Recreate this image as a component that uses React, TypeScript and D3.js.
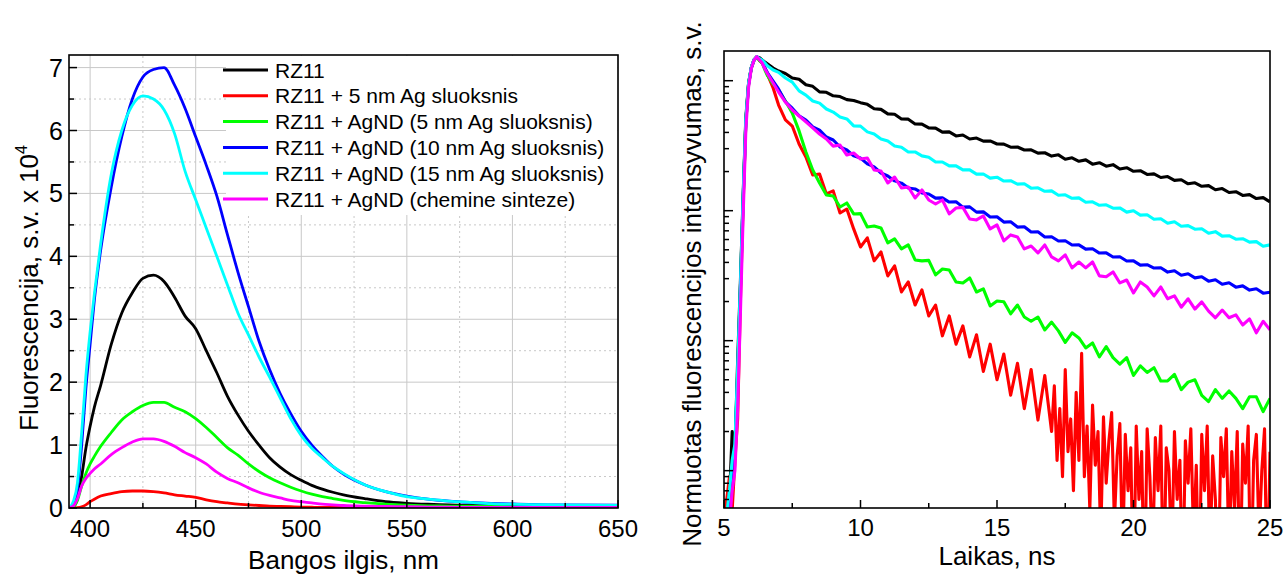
import React from "react";
import * as d3 from "d3";

// ---------- left panel: fluorescence spectra (x 10^4) ----------
const wavelength = [390, 392, 394, 396, 398, 400, 402, 405, 410, 415, 420, 425, 430, 435, 440, 445, 450, 455, 460, 465, 470, 475, 480, 485, 490, 495, 500, 505, 510, 515, 520, 530, 540, 550, 560, 570, 580, 590, 600, 620, 650];
const specRZ11 = [0, 0.02, 0.15, 0.5, 0.95, 1.3, 1.6, 1.95, 2.6, 3.1, 3.42, 3.65, 3.7, 3.6, 3.35, 3.05, 2.85, 2.5, 2.15, 1.78, 1.48, 1.22, 1.0, 0.8, 0.65, 0.53, 0.44, 0.36, 0.3, 0.25, 0.21, 0.15, 0.1, 0.075, 0.06, 0.05, 0.04, 0.035, 0.03, 0.025, 0.02];
const specAg5 = [0, 0, 0.005, 0.02, 0.05, 0.1, 0.14, 0.19, 0.23, 0.26, 0.27, 0.27, 0.26, 0.24, 0.21, 0.19, 0.17, 0.13, 0.1, 0.08, 0.06, 0.05, 0.04, 0.03, 0.025, 0.02, 0.015, 0.012, 0.01, 0.01, 0.008, 0.006, 0.005, 0.004, 0.003, 0.003, 0.002, 0.002, 0.002, 0.001, 0.001];
const specND5 = [0, 0.02, 0.12, 0.35, 0.55, 0.7, 0.82, 0.98, 1.2, 1.4, 1.53, 1.63, 1.68, 1.68, 1.6, 1.53, 1.42, 1.28, 1.12, 0.96, 0.84, 0.7, 0.58, 0.48, 0.4, 0.33, 0.27, 0.22, 0.18, 0.15, 0.12, 0.085, 0.06, 0.045, 0.035, 0.03, 0.028, 0.025, 0.025, 0.02, 0.02];
const specND10 = [0, 0.05, 0.3, 1.0, 1.9, 2.6, 3.3, 4.1, 5.1, 5.9, 6.5, 6.85, 6.97, 7.0, 6.72, 6.35, 5.9, 5.45, 4.96, 4.35, 3.75, 3.2, 2.65, 2.2, 1.82, 1.5, 1.22, 1.0, 0.82, 0.66, 0.54, 0.37, 0.26, 0.19, 0.14, 0.11, 0.09, 0.075, 0.065, 0.05, 0.045];
const specND15 = [0, 0.1, 0.4, 1.2, 2.1, 2.8, 3.4, 4.2, 5.3, 6.0, 6.4, 6.55, 6.5, 6.33, 5.95, 5.35, 4.9, 4.45, 4.0, 3.55, 3.1, 2.75, 2.4, 2.08, 1.75, 1.42, 1.15, 0.95, 0.8, 0.66, 0.55, 0.37, 0.26, 0.18, 0.14, 0.11, 0.09, 0.07, 0.06, 0.05, 0.04];
const specChem = [0, 0.03, 0.15, 0.35, 0.47, 0.55, 0.62, 0.7, 0.85, 0.96, 1.05, 1.1, 1.1, 1.06, 0.98, 0.88, 0.8, 0.7, 0.57, 0.47, 0.4, 0.32, 0.25, 0.2, 0.16, 0.12, 0.1, 0.08, 0.06, 0.05, 0.04, 0.03, 0.025, 0.02, 0.015, 0.012, 0.01, 0.01, 0.01, 0.01, 0.01];

const wlTicks = [400, 450, 500, 550, 600, 650];
const wlMinor = [425, 475, 525, 575, 625];
const intTicks = [0, 1, 2, 3, 4, 5, 6, 7];
const intMinor = [0.5, 1.5, 2.5, 3.5, 4.5, 5.5, 6.5];

// ---------- right panel: fluorescence decays (counts) ----------
const time = [5.0, 5.2, 5.3, 5.4, 5.5, 5.6, 5.7, 5.8, 5.9, 6.0, 6.1, 6.2, 6.3, 6.4, 6.5, 6.6, 6.8,
  7.0, 7.25, 7.5, 7.75, 8.0, 8.25, 8.5, 8.75, 9.0, 9.25, 9.5, 9.75,
  10.0, 10.25, 10.5, 10.75, 11.0, 11.25, 11.5, 11.75, 12.0, 12.25, 12.5, 12.75,
  13.0, 13.25, 13.5, 13.75, 14.0, 14.25, 14.5, 14.75, 15.0, 15.25, 15.5, 15.75,
  16.0, 16.25, 16.5, 16.75, 17.0, 17.25, 17.5, 17.75, 18.0, 18.25, 18.5, 18.75,
  19.0, 19.25, 19.5, 19.75, 20.0, 20.25, 20.5, 20.75, 21.0, 21.25, 21.5, 21.75,
  22.0, 22.25, 22.5, 22.75, 23.0, 23.25, 23.5, 23.75, 24.0, 24.25, 24.5, 24.75, 25.0];
// the 5 nm Ag film trace is sampled more finely in its noisy tail
const timeAg5 = [5.0, 5.2, 5.3, 5.4, 5.5, 5.6, 5.7, 5.8, 5.9, 6.0, 6.1, 6.2, 6.3, 6.4, 6.5, 6.6, 6.8,
  7.0, 7.25, 7.5, 7.75, 8.0, 8.25, 8.5, 8.75, 9.0, 9.25, 9.5, 9.75,
  10.0, 10.25, 10.5, 10.75, 11.0, 11.25, 11.5, 11.75, 12.0, 12.25, 12.5, 12.75,
  13.0, 13.25, 13.5, 13.75, 14.0, 14.25, 14.5, 14.75, 15.0, 15.25, 15.5, 15.75,
  16.0, 16.25, 16.5, 16.75,
  17.0, 17.1, 17.2, 17.3, 17.4, 17.5, 17.6, 17.7, 17.8, 17.9,
  18.0, 18.1, 18.2, 18.3, 18.4, 18.5, 18.6, 18.7, 18.8, 18.9,
  19.0, 19.1, 19.2, 19.3, 19.4, 19.5, 19.6, 19.7, 19.8, 19.9,
  20.0, 20.1, 20.2, 20.3, 20.4, 20.5, 20.6, 20.7, 20.8, 20.9,
  21.0, 21.1, 21.2, 21.3, 21.4, 21.5, 21.6, 21.7, 21.8, 21.9,
  22.0, 22.1, 22.2, 22.3, 22.4, 22.5, 22.6, 22.7, 22.8, 22.9,
  23.0, 23.1, 23.2, 23.3, 23.4, 23.5, 23.6, 23.7, 23.8, 23.9,
  24.0, 24.1, 24.2, 24.3, 24.4, 24.5, 24.6, 24.7, 24.8, 24.9, 25.0];
const decayRZ11 = [3, 6, 20, 14, 70, 280, 1300, 5200, 9600, 12600, 14400, 15200, 15000, 14420, 13900, 13450, 12520,
  11870, 11350, 10500, 10250, 9300, 9050, 8200, 8150, 7650, 7550, 7150, 7050,
  6780, 6580, 6080, 6020, 5560, 5520, 5080, 5060, 4650, 4630, 4330, 4320,
  4020, 4040, 3760, 3820, 3560, 3620, 3430, 3440, 3260, 3250, 3080, 3090,
  2930, 2940, 2770, 2790, 2630, 2690, 2490, 2550, 2400, 2460, 2280, 2340,
  2200, 2260, 2090, 2140, 2010, 2030, 1900, 1920, 1800, 1830, 1710, 1730,
  1610, 1640, 1540, 1560, 1450, 1480, 1380, 1400, 1310, 1330, 1240, 1260, 1170];
const decayAg5 = [4, 9, 5, 12, 25, 200, 1100, 4800, 9300, 12600, 14500, 15300, 14300, 13670, 12520, 11060, 8790,
  6500, 4990, 4480, 3260, 2590, 1880, 1915, 1345, 1420, 960, 1030, 724,
  526, 618, 411, 481, 315, 376, 237, 283, 188, 246, 155, 188,
  109, 155, 94, 130, 75, 111, 58, 94, 50, 79, 38, 67,
  30, 60, 24.5, 54,
  20, 45, 12, 30, 9, 60, 14, 25, 7, 40,
  12, 80, 9, 22, 5, 32, 11, 20, 3, 26,
  8, 17, 28, 4, 13, 23, 2, 19, 7, 15,
  1, 22, 6, 14, 1, 21, 9, 2, 18, 7,
  22, 1, 15, 10, 2, 20, 6, 12, 1, 17,
  8, 21, 3, 11, 1, 19, 7, 22, 2, 13,
  6, 1, 18, 9, 21, 2, 14, 5, 20, 1,
  16, 8, 22, 1, 12, 19, 3, 10, 21, 1, 14];
const decayND5 = [3, 6, 11, 15, 55, 250, 1200, 4900, 9400, 12600, 14500, 15300, 14300, 13670, 12080, 10870, 9430,
  8480, 6975, 5640, 4110, 2830, 2057, 1634, 1320, 1297, 1067, 1146, 944,
  950, 750, 763, 737, 565, 607, 508, 545, 418, 411, 415, 321,
  356, 350, 283, 278, 304, 237, 250, 185, 202, 199, 161, 188,
  152, 141, 152, 121, 139, 119, 97, 115, 105, 88, 96, 75,
  90, 74, 66, 74, 54, 64, 57, 62, 49, 49, 55, 42,
  48, 50, 38, 34, 42, 36, 41, 36, 30, 37, 37, 28.5, 36];
const decayND10 = [3, 5, 10, 14, 55, 250, 1200, 4900, 9400, 12600, 14500, 15300, 14600, 13920, 12520, 11450, 9940,
  8600, 6880, 6140, 5370, 4980, 4410, 4170, 3690, 3500, 3090, 2930, 2640,
  2540, 2290, 2170, 1950, 1850, 1695, 1630, 1495, 1470, 1370, 1345, 1250,
  1255, 1165, 1170, 1065, 1070, 975, 980, 893, 897, 817, 821, 748,
  752, 685, 688, 627, 630, 584, 587, 544, 546, 506, 509, 472,
  474, 440, 442, 410, 411, 381, 384, 362, 364, 337, 345, 319,
  327, 304, 310, 287, 294, 272, 279, 258, 264, 245, 251, 232, 236];
const decayND15 = [3, 7, 12, 16, 60, 260, 1250, 5000, 9500, 12700, 14500, 15300, 14800, 14420, 13670, 12970, 12080,
  11600, 10500, 9750, 8350, 7750, 6980, 6720, 6060, 5740, 5260, 5080, 4490,
  4470, 4040, 3890, 3560, 3440, 3150, 3080, 2830, 2830, 2640, 2580, 2370,
  2370, 2210, 2210, 2060, 2060, 1910, 1915, 1780, 1810, 1690, 1700, 1600,
  1610, 1490, 1500, 1410, 1420, 1315, 1325, 1245, 1255, 1160, 1170, 1100,
  1110, 1045, 1050, 975, 1000, 925, 930, 860, 868, 800, 822, 760,
  767, 720, 727, 670, 690, 637, 642, 603, 609, 573, 578, 533, 546];
const decayChem = [2, 4, 7, 10, 30, 160, 900, 4200, 8900, 12400, 14400, 15300, 14500, 13670, 12300, 11260, 9600,
  8180, 6850, 5950, 5350, 4820, 4330, 3890, 3560, 3140, 3200, 2680, 2780,
  2500, 2545, 2057, 2020, 1634, 1815, 1495, 1522, 1252, 1443, 1209, 1126,
  1209, 944, 1049, 1060, 864, 849, 911, 724, 777, 586, 651, 628,
  508, 535, 473, 545, 441, 411, 457, 363, 403, 363, 403, 315,
  310, 338, 278, 293, 233, 283, 259, 221, 259, 210, 221, 181,
  210, 175, 199, 169, 150, 172, 150, 158, 132, 147, 115, 141, 121];

const timeTicks = [5, 10, 15, 20, 25];
const timeMinor = [7.5, 12.5, 17.5, 22.5];

const seriesNames = [
  "RZ11",
  "RZ11 + 5 nm Ag sluoksnis",
  "RZ11 + AgND (5 nm Ag sluoksnis)",
  "RZ11 + AgND (10 nm Ag sluoksnis)",
  "RZ11 + AgND (15 nm Ag sluoksnis)",
  "RZ11 + AgND (chemine sinteze)",
];
const seriesColors = ["#000000", "#ff0000", "#00ff00", "#0000ff", "#00ffff", "#ff00ff"];
const spectra = [specRZ11, specAg5, specND5, specND10, specND15, specChem];
const decays = [decayRZ11, decayAg5, decayND5, decayND10, decayND15, decayChem];
const decayTimes = [time, timeAg5, time, time, time, time];

const FONT = "'Liberation Sans', Arial, Helvetica, sans-serif";
const GRID = "#c8c8c8";

function SpectraPanel() {
  const x = d3.scaleLinear().domain([390, 650]).range([69, 618]);
  const y = d3.scaleLinear().domain([0, 7.2]).range([508, 55]);
  const [x0, x1] = x.range();
  const [y0, y1] = y.range();
  const line = d3
    .line<number>()
    .x((_, i) => x(wavelength[i]))
    .y((d) => y(d))
    .curve(d3.curveMonotoneX);

  return (
    <g>
      <defs>
        <clipPath id="clipSpec">
          <rect x={x0} y={y1} width={x1 - x0} height={y0 - y1} />
        </clipPath>
      </defs>
      {/* grid */}
      {wlTicks.map((t) => (
        <line key={"gx" + t} x1={x(t)} x2={x(t)} y1={y0} y2={y1} stroke={GRID} strokeWidth={1} />
      ))}
      {wlMinor.map((t) => (
        <line key={"gmx" + t} x1={x(t)} x2={x(t)} y1={y0} y2={y1} stroke={GRID} strokeWidth={1} strokeDasharray="2,3" />
      ))}
      {intTicks.map((t) => (
        <line key={"gy" + t} x1={x0} x2={x1} y1={y(t)} y2={y(t)} stroke={GRID} strokeWidth={1} />
      ))}
      {intMinor.map((t) => (
        <line key={"gmy" + t} x1={x0} x2={x1} y1={y(t)} y2={y(t)} stroke={GRID} strokeWidth={1} strokeDasharray="2,3" />
      ))}

      {/* legend background hides the grid */}
      <rect x={226} y={y1 + 1} width={x1 - 227} height={159} fill="#fff" />

      <g clipPath="url(#clipSpec)">
        {spectra.map((s, i) => (
          <path key={i} d={line(s) || ""} fill="none" stroke={seriesColors[i]} strokeWidth={2.8} strokeLinejoin="round" />
        ))}
      </g>

      {/* ticks */}
      {wlTicks.map((t) => (
        <g key={"tx" + t}>
          <line x1={x(t)} x2={x(t)} y1={y0} y2={y0 - 8} stroke="#000" strokeWidth={1.5} />
          <text x={x(t)} y={537} textAnchor="middle" fontSize={24} fontFamily={FONT}>{t}</text>
        </g>
      ))}
      {wlMinor.map((t) => (
        <line key={"tmx" + t} x1={x(t)} x2={x(t)} y1={y0} y2={y0 - 5} stroke="#000" strokeWidth={1.5} />
      ))}
      {intTicks.map((t) => (
        <g key={"ty" + t}>
          <line x1={x0} x2={x0 + 8} y1={y(t)} y2={y(t)} stroke="#000" strokeWidth={1.5} />
          <text x={63} y={y(t)} dy="0.36em" textAnchor="end" fontSize={25} fontFamily={FONT}>{t}</text>
        </g>
      ))}
      {intMinor.map((t) => (
        <line key={"tmy" + t} x1={x0} x2={x0 + 5} y1={y(t)} y2={y(t)} stroke="#000" strokeWidth={1.5} />
      ))}

      <rect x={x0} y={y1} width={x1 - x0} height={y0 - y1} fill="none" stroke="#000" strokeWidth={1.6} />

      {/* legend */}
      {seriesNames.map((n, i) => {
        const ly = 70 + i * 25.8;
        return (
          <g key={n}>
            <line x1={223} x2={268} y1={ly} y2={ly} stroke={seriesColors[i]} strokeWidth={3} />
            <text x={275} y={ly} dy="0.36em" fontSize={21} fontFamily={FONT}>{n}</text>
          </g>
        );
      })}

      <text x={(x0 + x1) / 2} y={569} textAnchor="middle" fontSize={26} fontFamily={FONT}>Bangos ilgis, nm</text>
      <text transform={`translate(38,288) rotate(-90)`} textAnchor="middle" fontSize={26} fontFamily={FONT}>
        Fluorescencija, s.v. x 10<tspan dy={-11} fontSize={16}>4</tspan>
      </text>
    </g>
  );
}

function DecayPanel() {
  const x = d3.scaleLinear().domain([5, 25]).range([724, 1270]);
  const y = d3.scaleLog().domain([5.16, 16925]).range([508, 51]);
  const [x0, x1] = x.range();
  const [y0, y1] = y.range();

  const majors = [10, 100, 1000, 10000];
  const minors: number[] = [];
  [1, 10, 100, 1000, 10000].forEach((dec) => {
    for (let k = 2; k <= 9; k++) {
      const v = dec * k;
      if (v >= y.domain()[0] && v <= y.domain()[1]) minors.push(v);
    }
  });

  return (
    <g>
      <defs>
        <clipPath id="clipDecay">
          <rect x={x0} y={y1} width={x1 - x0} height={y0 - y1} />
        </clipPath>
      </defs>
      <g clipPath="url(#clipDecay)">
        {decays.map((s, i) => {
          const ts = decayTimes[i];
          const line = d3
            .line<number>()
            .x((_, j) => x(ts[j]))
            .y((d) => y(Math.max(d, 0.5)));
          return (
            <path key={i} d={line(s) || ""} fill="none" stroke={seriesColors[i]} strokeWidth={3.1} strokeLinejoin="round" />
          );
        })}
      </g>

      {timeTicks.map((t) => (
        <g key={"tx" + t}>
          <line x1={x(t)} x2={x(t)} y1={y0} y2={y0 - 8} stroke="#000" strokeWidth={1.5} />
          <text x={x(t)} y={536} textAnchor="middle" fontSize={24} fontFamily={FONT}>{t}</text>
        </g>
      ))}
      {timeMinor.map((t) => (
        <line key={"tmx" + t} x1={x(t)} x2={x(t)} y1={y0} y2={y0 - 5} stroke="#000" strokeWidth={1.5} />
      ))}
      {majors.map((v) => (
        <line key={"ty" + v} x1={x0} x2={x0 + 9} y1={y(v)} y2={y(v)} stroke="#000" strokeWidth={1.5} />
      ))}
      {minors.map((v) => (
        <line key={"tmy" + v} x1={x0} x2={x0 + 5} y1={y(v)} y2={y(v)} stroke="#000" strokeWidth={1.5} />
      ))}

      <rect x={x0} y={y1} width={x1 - x0} height={y0 - y1} fill="none" stroke="#000" strokeWidth={1.6} />

      <text x={(x0 + x1) / 2} y={565} textAnchor="middle" fontSize={26} fontFamily={FONT}>Laikas, ns</text>
      <text transform={`translate(701,284) rotate(-90)`} textAnchor="middle" fontSize={26} fontFamily={FONT}>
        Normuotas fluorescencijos intensyvumas, s.v.
      </text>
    </g>
  );
}

export default function App() {
  return (
    <svg
      width={1286}
      height={575}
      viewBox="0 0 1286 575"
      style={{ position: "absolute", left: 0, top: 0, background: "#fff" }}
    >
      <rect width={1286} height={575} fill="#fff" />
      <SpectraPanel />
      <DecayPanel />
    </svg>
  );
}
